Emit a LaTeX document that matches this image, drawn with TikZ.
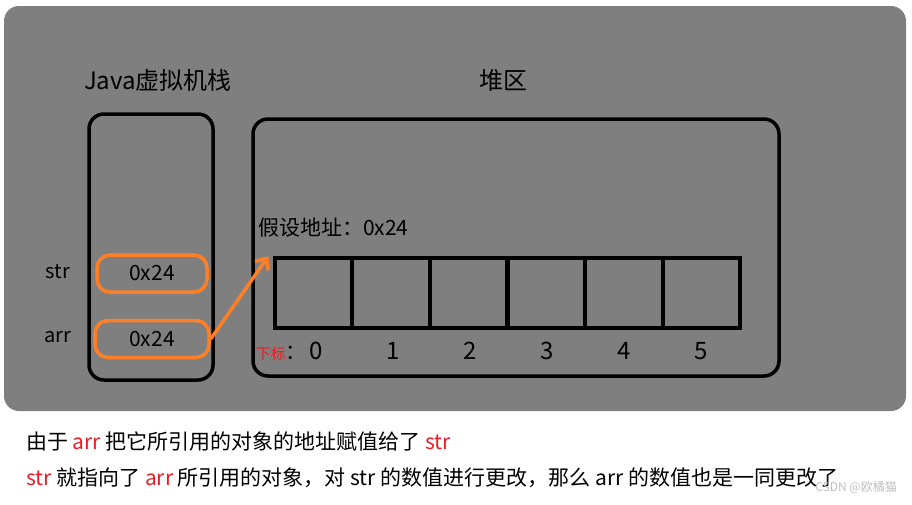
\documentclass[tikz,border=0pt]{standalone}
\usepackage{fontspec}
\newfontfamily\cjk{Noto Sans CJK SC}
\usepackage{xcolor}
\usetikzlibrary{shapes,arrows.meta,positioning,calc}
\definecolor{bggray}{RGB}{127,127,127}
\definecolor{refline}{RGB}{255,127,39}
\definecolor{markred}{RGB}{237,28,36}
\newcommand{\txt}[1]{\cjk\fontsize{#1}{#1}\selectfont}

\begin{document}
\begin{tikzpicture}[
    x=1pt, y=-1pt,
    every node/.style={inner sep=0pt, font=\txt{21}},
    frame/.style={draw, line width=3.5pt, rounded corners=15pt},
    slot/.style={draw=refline, line width=3.5pt, rounded corners=13pt, minimum height=37pt},
    cell/.style={draw, line width=3.5pt, minimum width=77pt, minimum height=70pt},
    arrow/.style={-{Straight Barb[length=9pt,width=16pt]}, draw=refline, line width=3.5pt}
]
    \useasboundingbox (0,0) rectangle (912,504);
    \fill[bggray, rounded corners=15pt] (4,6) rectangle (906,411);

    % stack and heap
    \node[frame, minimum width=124pt, minimum height=266pt] (stack) at (151,247) {};
    \node[frame, minimum width=526pt, minimum height=257pt] (heap) at (516,247.5) {};
    \node at (158,80) {\txt{24}Java虚拟机栈};
    \node at (503,80) {\txt{24}堆区};

    % references on the stack
    \node[slot, minimum width=110pt] (str) at (152,273.5) {0x24};
    \node[slot, minimum width=114pt] (arr) at (152,339) {0x24};
    \node at (58,272) {\txt{20}str};
    \node at (58,337) {\txt{20}arr};

    % array object in the heap
    \node[anchor=west] (addr) at (258,228) {假设地址：0x24};
    \foreach \i in {0,...,5} {
        \node[cell] (c\i) at ({313.5+77.6*\i},293) {};
        \node at ({316+77*\i},351) {\txt{24}\i};
    }
    \node[anchor=east] (idx) at (307,353) {\textcolor{markred}{\txt{15}下标}：};

    \coordinate (tip) at ($(c0.north west)+(-5,0)$);
    \draw[arrow] (arr.east) -- (tip);

    % explanation below
    \node[anchor=west] (line1) at (26,441) {由于 \textcolor{markred}{arr} 把它所引用的对象的地址赋值给了 \textcolor{markred}{str}};
    \node[anchor=west] (line2) at (26,478) {\textcolor{markred}{str} 就指向了 \textcolor{markred}{arr} 所引用的对象，对 str 的数值进行更改，那么 arr 的数值也是一同更改了};
    \node[anchor=east, text=black!25] (mark) at (897,487) {\txt{12}CSDN @欧橘猫};
\end{tikzpicture}
\end{document}
